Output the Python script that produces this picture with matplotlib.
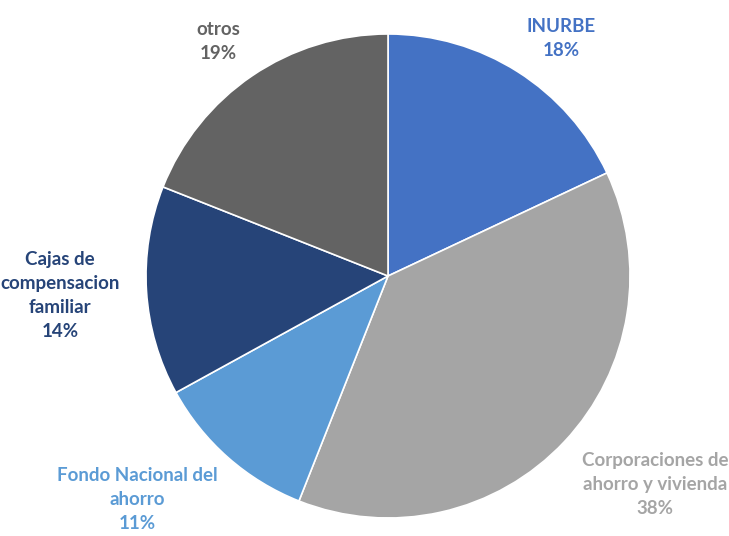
import matplotlib.pyplot as plt

labels = ["INURBE", "Corporaciones de\nahorro y vivienda", "Fondo Nacional del\nahorro",
          "Cajas de\ncompensacion\nfamiliar", "otros"]
shares = [18, 38, 11, 14, 19]
colors = ["#4472C4", "#A5A5A5", "#5B9BD5", "#264478", "#636363"]
# label centres in data units (pie radius = 1)
label_pos = [(0.715, 0.983), (1.103, -0.86), (-1.037, -0.925), (-1.355, -0.079), (-0.702, 0.971)]

plt.rcParams['font.family'] = ['Lato', 'DejaVu Sans']

fig = plt.figure(figsize=(7.29, 5.36), dpi=100)
ax = fig.add_axes([0.2003, 0.0336, 484 / 729, 484 / 536])

ax.pie(shares, colors=colors, startangle=90, counterclock=False, radius=1,
       wedgeprops=dict(edgecolor="white", linewidth=1.2))

for lab, s, c, (x, y) in zip(labels, shares, colors, label_pos):
    ax.text(x, y, "%s\n%d%%" % (lab, s), color=c, ha="center", va="center",
            fontsize=13.5, fontweight="bold", linespacing=1.5)

ax.set_xlim(-1, 1)
ax.set_ylim(-1, 1)
ax.set_aspect("equal")
ax.axis("off")

fig.savefig("out.png", dpi=100)
